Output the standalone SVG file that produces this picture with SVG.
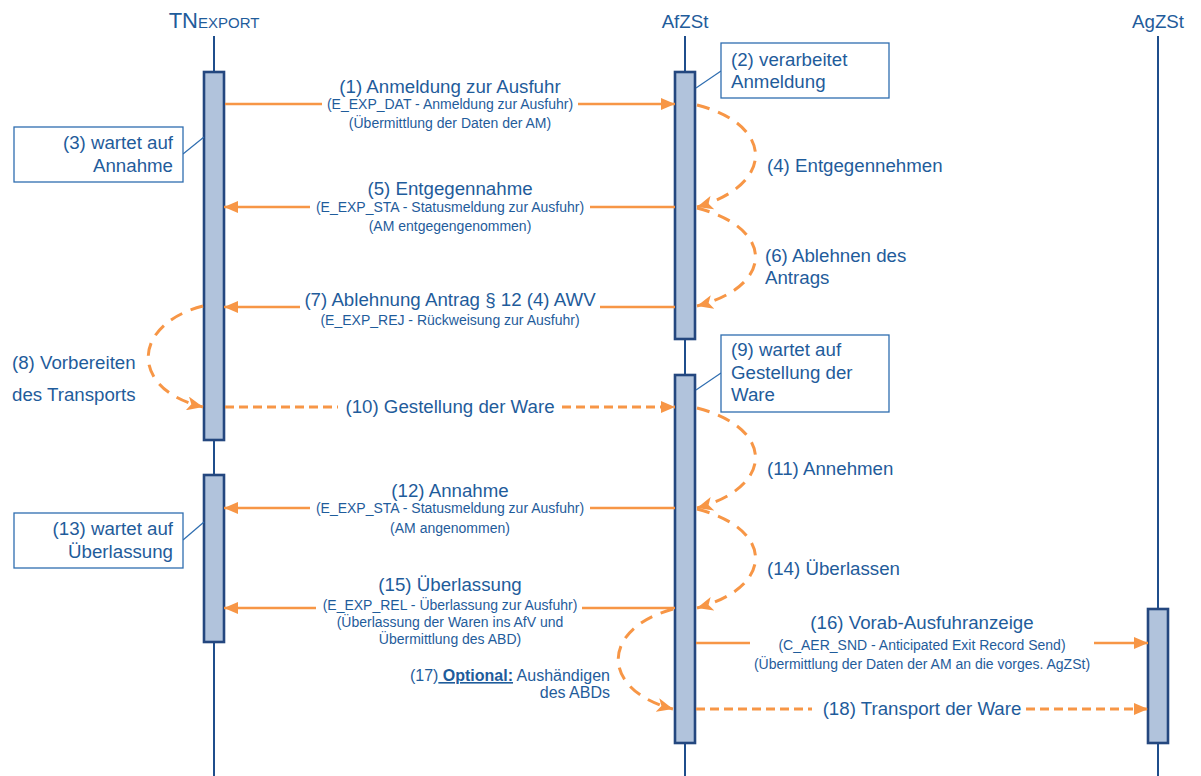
<svg xmlns="http://www.w3.org/2000/svg" width="1201" height="776" viewBox="0 0 1201 776">
<style>
text{font-family:"Liberation Sans",Arial,sans-serif;fill:#1F5C9B}
.h{font-size:18.7px}
.s{font-size:14px}
.ll{stroke:#1F4E8C;stroke-width:2;fill:none}
.bar{fill:#B1C3DC;stroke:#24477F;stroke-width:2.6}
.m{stroke:#F79646;stroke-width:2.5;fill:none}
.d{stroke:#F79646;stroke-width:3;fill:none;stroke-dasharray:9 5}
.c{stroke:#F79646;stroke-width:3;fill:none;stroke-dasharray:13 9}
.nb{fill:#fff;stroke:#2E6DB0;stroke-width:1.3}
.nl{stroke:#2E6DB0;stroke-width:1.2}
</style>
<defs>
<marker id="ah" markerUnits="userSpaceOnUse" markerWidth="16" markerHeight="12" refX="14" refY="6" orient="auto"><path d="M0,0 L14,6 L0,12 z" fill="#F79646"/></marker>
<marker id="st" markerUnits="userSpaceOnUse" markerWidth="18" markerHeight="14" refX="16" refY="7" orient="auto"><path d="M0,0 L16,7 L0,14 L4,7 z" fill="#F79646"/></marker>
</defs>
<rect width="1201" height="776" fill="#fff"/>

<g id="lifeline-tn">
<text x="214" y="28" text-anchor="middle"><tspan font-size="22px">TN</tspan><tspan font-size="15px">EXPORT</tspan></text>
<line class="ll" x1="214" y1="36" x2="214" y2="776"/>
<rect class="bar" x="204" y="72" width="20" height="368"/>
<rect class="bar" x="204" y="475" width="20" height="167"/>
</g>
<g id="lifeline-afzst">
<text class="h" x="685" y="28" text-anchor="middle">AfZSt</text>
<line class="ll" x1="685" y1="36" x2="685" y2="776"/>
<rect class="bar" x="675" y="72" width="20" height="267"/>
<rect class="bar" x="675" y="375" width="20" height="368"/>
</g>
<g id="lifeline-agzst">
<text class="h" x="1158" y="28" text-anchor="middle">AgZSt</text>
<line class="ll" x1="1158" y1="36" x2="1158" y2="776"/>
<rect class="bar" x="1148" y="609" width="20" height="134"/>
</g>

<g id="connectors">
<path class="m" d="M225,104 H322 M578,104 H675" marker-end="url(#ah)"/>
<path class="m" d="M675,207 H590 M310,207 H224" marker-end="url(#ah)"/>
<path class="m" d="M675,307 H600 M300,307 H224" marker-end="url(#ah)"/>
<path class="d" d="M225,407 H338 M562,407 H675" marker-end="url(#ah)"/>
<path class="m" d="M675,508 H590 M310,508 H224" marker-end="url(#ah)"/>
<path class="m" d="M675,608 H582 M316,608 H224" marker-end="url(#ah)"/>
<path class="m" d="M696,643 H750 M1094,643 H1148" marker-end="url(#ah)"/>
<path class="d" d="M696,709 H812 M1026,709 H1148" marker-end="url(#ah)"/>
<path class="c" d="M697,105 C775,125 775,185 697,207" marker-end="url(#st)"/>
<path class="c" d="M697,208 C775,228 775,286 697,306" marker-end="url(#st)"/>
<path class="c" d="M697,408 C775,428 775,487 697,508" marker-end="url(#st)"/>
<path class="c" d="M697,509 C775,529 775,587 697,608" marker-end="url(#st)"/>
<path class="c" d="M203,306 C130,325 130,390 203,407" marker-end="url(#st)"/>
<path class="c" d="M673,609 C600,629 600,690 673,709" marker-end="url(#st)"/>
</g>

<g id="msg-1">
<text class="h" x="450" y="93" text-anchor="middle">(1) Anmeldung zur Ausfuhr</text>
<text class="s" x="450" y="109" text-anchor="middle">(E_EXP_DAT - Anmeldung zur Ausfuhr)</text>
<text class="s" x="450" y="128" text-anchor="middle">(Übermittlung der Daten der AM)</text>
</g>
<g id="msg-5">
<text class="h" x="450" y="195" text-anchor="middle">(5) Entgegennahme</text>
<text class="s" x="450" y="212" text-anchor="middle">(E_EXP_STA - Statusmeldung zur Ausfuhr)</text>
<text class="s" x="450" y="231" text-anchor="middle">(AM entgegengenommen)</text>
</g>
<g id="msg-7">
<text class="h" x="450" y="306" text-anchor="middle">(7) Ablehnung Antrag § 12 (4) AWV</text>
<text class="s" x="450" y="325" text-anchor="middle">(E_EXP_REJ - Rückweisung zur Ausfuhr)</text>
</g>
<g id="msg-10">
<text class="h" x="450" y="413" text-anchor="middle">(10) Gestellung der Ware</text>
</g>
<g id="msg-12">
<text class="h" x="450" y="497" text-anchor="middle">(12) Annahme</text>
<text class="s" x="450" y="513" text-anchor="middle">(E_EXP_STA - Statusmeldung zur Ausfuhr)</text>
<text class="s" x="450" y="533" text-anchor="middle">(AM angenommen)</text>
</g>
<g id="msg-15">
<text class="h" x="450" y="591" text-anchor="middle">(15) Überlassung</text>
<text class="s" x="450" y="610" text-anchor="middle">(E_EXP_REL - Überlassung zur Ausfuhr)</text>
<text class="s" x="450" y="627" text-anchor="middle">(Überlassung der Waren ins AfV und</text>
<text class="s" x="450" y="644" text-anchor="middle">Übermittlung des ABD)</text>
</g>
<g id="msg-16">
<text class="h" x="922" y="629" text-anchor="middle">(16) Vorab-Ausfuhranzeige</text>
<text class="s" x="922" y="650" text-anchor="middle">(C_AER_SND - Anticipated Exit Record Send)</text>
<text class="s" x="922" y="669" text-anchor="middle">(Übermittlung der Daten der AM an die vorges. AgZSt)</text>
</g>
<g id="msg-18">
<text class="h" x="922" y="715" text-anchor="middle">(18) Transport der Ware</text>
</g>
<g id="step-4"><text class="h" x="767" y="172">(4) Entgegennehmen</text></g>
<g id="step-6"><text class="h" x="765" y="262">(6) Ablehnen des</text><text class="h" x="765" y="284">Antrags</text></g>
<g id="step-11"><text class="h" x="767" y="475">(11) Annehmen</text></g>
<g id="step-14"><text class="h" x="767" y="575">(14) Überlassen</text></g>
<g id="step-8"><text class="h" x="12" y="369">(8) Vorbereiten</text><text class="h" x="12" y="401">des Transports</text></g>
<g id="step-17">
<text x="610" y="681" text-anchor="end" font-size="16px">(17)<tspan font-weight="bold" text-decoration="underline"> Optional:</tspan> Aushändigen</text>
<text x="610" y="698" text-anchor="end" font-size="16px">des ABDs</text>
</g>

<g id="note-2">
<line class="nl" x1="696" y1="88" x2="721" y2="71"/>
<rect class="nb" x="721" y="43" width="168" height="55"/>
<text class="h" x="731" y="66">(2) verarbeitet</text>
<text class="h" x="731" y="88">Anmeldung</text>
</g>
<g id="note-3">
<line class="nl" x1="183" y1="154" x2="204" y2="137"/>
<rect class="nb" x="14" y="127" width="169" height="55"/>
<text class="h" x="173" y="149" text-anchor="end">(3) wartet auf</text>
<text class="h" x="173" y="172" text-anchor="end">Annahme</text>
</g>
<g id="note-9">
<line class="nl" x1="696" y1="390" x2="721" y2="373"/>
<rect class="nb" x="721" y="335" width="168" height="77"/>
<text class="h" x="731" y="356">(9) wartet auf</text>
<text class="h" x="731" y="379">Gestellung der</text>
<text class="h" x="731" y="401">Ware</text>
</g>
<g id="note-13">
<line class="nl" x1="183" y1="540" x2="204" y2="522"/>
<rect class="nb" x="14" y="513" width="169" height="55"/>
<text class="h" x="173" y="535" text-anchor="end">(13) wartet auf</text>
<text class="h" x="173" y="558" text-anchor="end">Überlassung</text>
</g>
</svg>
